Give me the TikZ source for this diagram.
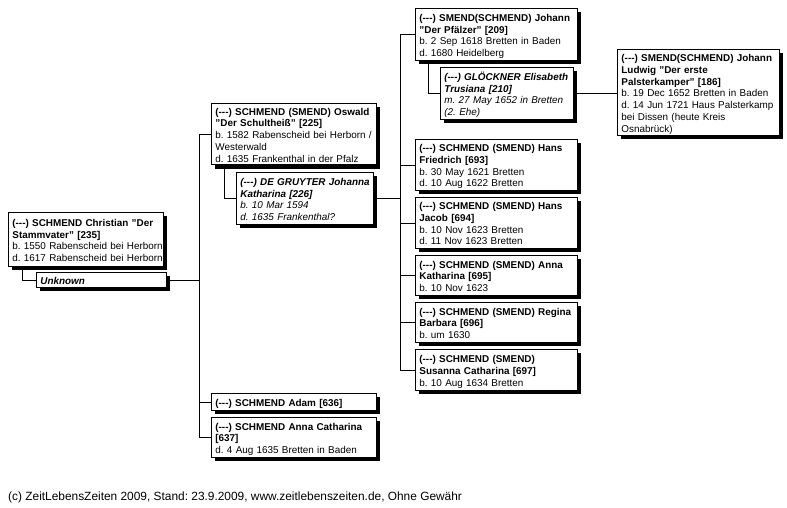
\documentclass[tikz,border=0pt]{standalone}
\usepackage{fontspec}
\setmainfont{Liberation Sans}[Ligatures=NoCommon]
\usetikzlibrary{shadows}
\frenchspacing
\newcommand\tb[1]{\raisebox{-2.2pt}[\height][\depth]{\begin{tabular}{@{}l@{}}#1\end{tabular}}}
\newcommand\dd{(-{}-{}-)}
\tikzset{
  pbox/.style 2 args={draw=black, line width=0.8pt, fill=white, anchor=north west,
    drop shadow={shadow xshift=4pt, shadow yshift=-4pt, fill=black, opacity=1},
    inner xsep=4pt, inner ysep=1.5pt, align=left,
    text width=#1pt-8pt, minimum width=#1pt, minimum height=#2pt,
    font=\fontsize{9.9}{11.7}\selectfont},
  link/.style={line width=0.8pt, draw=black}
}
\begin{document}
\begin{tikzpicture}[x=1pt,y=-1pt]
\useasboundingbox (0,0) rectangle (787,508);
\coordinate (t1) at (199,0);
\coordinate (t2) at (400,0);

\node[pbox={155}{54}] (chr) at (8,212) {\tb{\textbf{\dd{} SCHMEND Christian "Der}\\\textbf{Stammvater" [235]}\\b. 1550 Rabenscheid bei Herborn\\d. 1617 Rabenscheid bei Herborn}};
\node[pbox={130}{15}] (unk) at (36,272) {\tb{\textbf{\itshape Unknown}}};

\node[pbox={165}{61}] (osw) at (211,103) {\tb{\textbf{\dd{} SCHMEND (SMEND) Oswald}\\\textbf{"Der Schultheiß" [225]}\\b. 1582 Rabenscheid bei Herborn /\\Westerwald\\d. 1635 Frankenthal in der Pfalz}};
\node[pbox={137}{52}] (gru) at (236,172) {\itshape\tb{\textbf{\dd{} DE GRUYTER Johanna}\\\textbf{Katharina [226]}\\b. 10 Mar 1594\\d. 1635 Frankenthal?}};
\node[pbox={165}{17}] (adam) at (211,393) {\tb{\textbf{\dd{} SCHMEND Adam [636]}}};
\node[pbox={165}{40}] (ac) at (211,417) {\tb{\textbf{\dd{} SCHMEND Anna Catharina}\\\textbf{[637]}\\d. 4 Aug 1635 Bretten in Baden}};

\node[pbox={162}{52}] (joh) at (415,8) {\tb{\textbf{\dd{} SMEND(SCHMEND) Johann}\\\textbf{"Der Pfälzer" [209]}\\b. 2 Sep 1618 Bretten in Baden\\d. 1680 Heidelberg}};
\node[pbox={133}{52}] (glo) at (440,67) {\itshape\tb{\textbf{\dd{} GLÖCKNER Elisabeth}\\\textbf{Trusiana [210]}\\m. 27 May 1652 in Bretten\\(2. Ehe)}};
\node[pbox={162}{86}] (lud) at (617,49) {\tb{\textbf{\dd{} SMEND(SCHMEND) Johann}\\\textbf{Ludwig "Der erste}\\\textbf{Palsterkamper" [186]}\\b. 19 Dec 1652 Bretten in Baden\\d. 14 Jun 1721 Haus Palsterkamp\\bei Dissen (heute Kreis\\Osnabrück)}};
\node[pbox={162}{51}] (hf) at (415,139) {\tb{\textbf{\dd{} SCHMEND (SMEND) Hans}\\\textbf{Friedrich [693]}\\b. 30 May 1621 Bretten\\d. 10 Aug 1622 Bretten}};
\node[pbox={162}{51}] (hj) at (415,197) {\tb{\textbf{\dd{} SCHMEND (SMEND) Hans}\\\textbf{Jacob [694]}\\b. 10 Nov 1623 Bretten\\d. 11 Nov 1623 Bretten}};
\node[pbox={162}{40}] (ak) at (415,255) {\tb{\textbf{\dd{} SCHMEND (SMEND) Anna}\\\textbf{Katharina [695]}\\b. 10 Nov 1623}};
\node[pbox={162}{40}] (rb) at (415,302) {\tb{\textbf{\dd{} SCHMEND (SMEND) Regina}\\\textbf{Barbara [696]}\\b. um 1630}};
\node[pbox={162}{41}] (sc) at (415,349) {\tb{\textbf{\dd{} SCHMEND (SMEND)}\\\textbf{Susanna Catharina [697]}\\b. 10 Aug 1634 Bretten}};

\node[anchor=west, inner sep=0pt, font=\fontsize{11.9}{13}\selectfont] (foot) at (8,497) {(c) ZeitLebensZeiten 2009, Stand: 23.9.2009, www.zeitlebenszeiten.de, Ohne Gewähr};

% connectors
\draw[link] ([xshift=14pt]chr.south west) |- (unk.west);
\draw[link] (unk.east) -- (unk.east -| t1);
\draw[link] (t1 |- osw.west) -- (t1 |- ac.west);
\draw[link] (t1 |- osw.west) -- (osw.west);
\draw[link] (t1 |- adam.west) -- (adam.west);
\draw[link] (t1 |- ac.west) -- (ac.west);
\draw[link] ([xshift=13pt]osw.south west) |- (gru.west);
\draw[link] (gru.east) -- (gru.east -| t2);
\draw[link] (t2 |- joh.west) -- (t2 |- sc.west);
\draw[link] (t2 |- joh.west) -- (joh.west);
\draw[link] (t2 |- hf.west) -- (hf.west);
\draw[link] (t2 |- hj.west) -- (hj.west);
\draw[link] (t2 |- ak.west) -- (ak.west);
\draw[link] (t2 |- rb.west) -- (rb.west);
\draw[link] (t2 |- sc.west) -- (sc.west);
\draw[link] ([xshift=13pt]joh.south west) |- (glo.west);
\draw[link] (glo.east) -- (glo.east -| lud.west);
\end{tikzpicture}
\end{document}
